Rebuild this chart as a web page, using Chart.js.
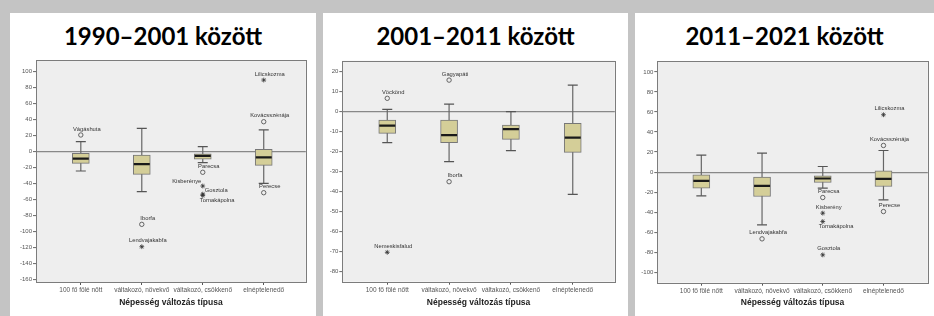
<!DOCTYPE html>
<html lang="hu">
<head>
<meta charset="utf-8">
<script src="https://cdn.jsdelivr.net/npm/chart.js@4.4.1/dist/chart.umd.min.js"></script>
<style>
    html, body { margin: 0; padding: 0; }
    body {
        width: 934px; height: 316px; position: relative; overflow: hidden;
        background: #c4c4c4;
        font-family: "Liberation Sans", Arial, sans-serif;
    }
    .panel { position: absolute; top: 13px; height: 303px; background: #fff; }
    .title {
        position: absolute; left: 0; right: 0; top: 8px;
        text-align: center; line-height: 30px;
        font-family: Lato, "Open Sans", sans-serif; font-weight: 700; font-size: 24px; color: #000;
    }
    canvas { position: absolute; top: 45px; }
</style>
</head>
<body>
<div class="panel" style="left:10px;width:306px"><div class="title">1990–2001 között</div></div>
<div class="panel" style="left:323px;width:305px"><div class="title">2001–2011 között</div></div>
<div class="panel" style="left:635px;width:299px"><div class="title">2011–2021 között</div></div>
<canvas id="c1" width="306" height="271" style="left:10px"></canvas>
<canvas id="c2" width="302" height="271" style="left:323px"></canvas>
<canvas id="c3" width="303" height="271" style="left:635px"></canvas>
<script>
// kategóriák
const categories = ['100 fő fölé nőtt', 'váltakozó, növekvő', 'váltakozó, csökkenő', 'elnéptelenedő'];
const xTitle = 'Népesség változás típusa';

// 1990–2001
const p1Ticks = [100, 80, 60, 40, 20, 0, -20, -40, -60, -80, -100, -120, -140, -160];
const p1Low = [-24.4, -50.3, -14, -39.9];
const p1Q1 = [-14.8, -28.6, -9.6, -17.3];
const p1Median = [-8.8, -15.7, -5.4, -7.3];
const p1Q3 = [-2.3, -4.4, -3, 2.7];
const p1High = [12.3, 29, 6, 27];
const p1Outliers = [
    { cat: 1, value: 20.7, name: 'Vágáshuta', star: false },
    { cat: 2, value: -91.2, name: 'Iborfa', star: false },
    { cat: 2, value: -119.2, name: 'Lendvajakabfa', star: true },
    { cat: 3, value: -26, name: 'Parecsa', star: false },
    { cat: 3, value: -43.2, name: 'Kisberénye', star: true },
    { cat: 3, value: -53.4, name: 'Gosztola', star: true },
    { cat: 3, value: -55, name: 'Tornakápolna', star: true },
    { cat: 4, value: 89.5, name: 'Lilicskozma', star: true },
    { cat: 4, value: 37.3, name: 'Kovácsszénája', star: false },
    { cat: 4, value: -51.6, name: 'Perecse', star: false },
];

// 2001–2011
const p2Ticks = [20, 10, 0, -10, -20, -30, -40, -50, -60, -70, -80];
const p2Low = [-15.5, -25, -19.5, -41.3];
const p2Q1 = [-10.8, -15.5, -13.8, -20.3];
const p2Median = [-7, -11.7, -8.7, -13];
const p2Q3 = [-4.2, -4.2, -6.7, -5.8];
const p2High = [1.2, 3.8, 0, 13.3];
const p2Outliers = [
    { cat: 1, value: 6.7, name: 'Vöckönd', star: false },
    { cat: 1, value: -70.3, name: 'Nemeskisfalud', star: true },
    { cat: 2, value: 15.8, name: 'Gagyapáti', star: false },
    { cat: 2, value: -35, name: 'Iborfa', star: false },
];

// 2011–2021
const p3Ticks = [100, 80, 60, 40, 20, 0, -20, -40, -60, -80, -100];
const p3Low = [-23.7, -52.7, -16, -27.7];
const p3Q1 = [-16, -24.4, -10.4, -14.4];
const p3Median = [-8.7, -13.7, -6.4, -6.7];
const p3Q3 = [-2.7, -5, -3.7, 1.3];
const p3High = [17, 19, 5.6, 21.6];
const p3Outliers = [
    { cat: 2, value: -66.7, name: 'Lendvajakabfa', star: false },
    { cat: 3, value: -25.4, name: 'Parecsa', star: false },
    { cat: 3, value: -41, name: 'Kisberény', star: true },
    { cat: 3, value: -49.4, name: 'Tornakápolna', star: true },
    { cat: 3, value: -82.7, name: 'Gosztola', star: true },
    { cat: 4, value: 57.3, name: 'Lilicskozma', star: true },
    { cat: 4, value: 26.6, name: 'Kovácsszénája', star: false },
    { cat: 4, value: -39.4, name: 'Perecse', star: false },
];

// panelek elrendezése
const panels = [
    { canvas: 'c1', ticks: p1Ticks, low: p1Low, q1: p1Q1, median: p1Median, q3: p1Q3, high: p1High, outliers: p1Outliers,
      yMin: -163.4, yMax: 114.6, xMin: 0.265, xMax: 4.69, yWidth: 26, top: 15, xHeight: 34,
      labelPos: { 'Kisberénye': ['right', -1.5, -4.3], 'Gosztola': ['left', 2, -3.3], 'Tornakápolna': ['left', -3, 4.8] } },
    { canvas: 'c2', ticks: p2Ticks, low: p2Low, q1: p2Q1, median: p2Median, q3: p2Q3, high: p2High, outliers: p2Outliers,
      yMin: -85, yMax: 25.5, xMin: 0.273, xMax: 4.68, yWidth: 19.3, top: 15.7, xHeight: 34.3,
      labelPos: {} },
    { canvas: 'c3', ticks: p3Ticks, low: p3Low, q1: p3Q1, median: p3Median, q3: p3Q3, high: p3High, outliers: p3Outliers,
      yMin: -110.5, yMax: 111, xMin: 0.275, xMax: 4.73, yWidth: 22.3, top: 16, xHeight: 33.3,
      labelPos: { 'Tornakápolna': ['left', -4, 5] } },
];

// háttér és keret
const framePlugin = {
    id: 'frame',
    beforeDraw(chart) {
        const { ctx, chartArea: a } = chart;
        ctx.save();
        ctx.fillStyle = '#eeeeee';
        ctx.fillRect(a.left, a.top, a.width, a.height);
        ctx.restore();
    },
    afterDatasetsDraw(chart) {
        const { ctx, chartArea: a } = chart;
        ctx.save();
        ctx.strokeStyle = '#7c7c7c';
        ctx.lineWidth = 1;
        ctx.strokeRect(Math.round(a.left) + 0.5, Math.round(a.top) + 0.5, Math.round(a.width), Math.round(a.height));
        ctx.restore();
    }
};

// kiugró értékek nevei
const labelPlugin = {
    id: 'outlierLabels',
    afterDatasetsDraw(chart, args, opts) {
        const ctx = chart.ctx;
        ctx.save();
        ctx.font = '5.8px "Liberation Sans", Arial, sans-serif';
        ctx.fillStyle = '#333';
        ctx.textBaseline = 'middle';
        chart.data.datasets.forEach((ds, di) => {
            if (!ds.outliers) return;
            chart.getDatasetMeta(di).data.forEach((pt, i) => {
                const name = ds.data[i].name;
                const [align, dx, dy] = opts.pos[name] || ['center', 6, -6];
                ctx.textAlign = align;
                ctx.fillText(name, pt.x + dx, pt.y + dy);
            });
        });
        ctx.restore();
    }
};

function buildChart(p) {
    const whiskers = [];
    const caps = [];
    categories.forEach((c, i) => {
        whiskers.push({ x: i + 1, y: p.high[i] }, { x: i + 1, y: p.low[i] }, { x: i + 1, y: null });
        caps.push({ x: i + 1, y: p.low[i] }, { x: i + 1, y: p.high[i] });
    });
    const boxes = categories.map((c, i) => ({ x: i + 1, y: [p.q1[i], p.q3[i]] }));
    const medians = categories.map((c, i) => ({ x: i + 1, y: p.median[i] }));
    const circles = p.outliers.filter(o => !o.star).map(o => ({ x: o.cat, y: o.value, name: o.name }));
    const stars = p.outliers.filter(o => o.star).map(o => ({ x: o.cat, y: o.value, name: o.name }));

    new Chart(document.getElementById(p.canvas), {
        type: 'scatter',
        data: {
            datasets: [
                { data: whiskers, showLine: true, pointRadius: 0, borderColor: '#666', borderWidth: 1.2, spanGaps: false, order: 5 },
                { data: caps, pointStyle: 'line', pointRadius: 5, pointBorderColor: '#555', pointBorderWidth: 1.2, order: 4 },
                { type: 'bar', data: boxes, barThickness: 17, backgroundColor: '#d4ce98', borderColor: '#777', borderWidth: 1, borderSkipped: false, order: 3 },
                { data: medians, pointStyle: 'line', pointRadius: 8, pointBorderColor: '#1a1a1a', pointBorderWidth: 2.2, order: 2 },
                { data: circles, outliers: true, pointStyle: 'circle', pointRadius: 2.2, pointBackgroundColor: 'rgba(0,0,0,0)', pointBorderColor: '#555', pointBorderWidth: 0.9, order: 1 },
                { data: stars, outliers: true, pointStyle: 'star', pointRadius: 2.4, pointBorderColor: '#333', pointBorderWidth: 0.8, order: 1 },
            ]
        },
        options: {
            responsive: false,
            animation: false,
            layout: { padding: { top: p.top, left: 0, right: 0, bottom: 0 } },
            plugins: {
                legend: { display: false },
                tooltip: { enabled: false },
                outlierLabels: { pos: p.labelPos }
            },
            scales: {
                x: {
                    type: 'linear',
                    offset: false,
                    min: p.xMin,
                    max: p.xMax,
                    afterBuildTicks: s => { s.ticks = categories.map((c, i) => ({ value: i + 1 })); },
                    afterFit: s => { s.height = p.xHeight; },
                    ticks: {
                        callback: v => categories[v - 1] || '',
                        font: { size: 6.5, family: '"Liberation Sans", Arial, sans-serif' },
                        color: '#555',
                        padding: 1.5,
                        maxRotation: 0,
                        autoSkip: false
                    },
                    grid: { offset: false, drawOnChartArea: false, tickLength: 3, tickColor: '#555', tickWidth: 1 },
                    border: { display: false },
                    title: {
                        display: true,
                        text: xTitle,
                        font: { size: 8.5, weight: 'bold', family: '"Liberation Sans", Arial, sans-serif' },
                        color: '#222',
                        padding: { top: 0, bottom: 8 }
                    }
                },
                y: {
                    min: p.yMin,
                    max: p.yMax,
                    afterBuildTicks: s => { s.ticks = p.ticks.map(v => ({ value: v })); },
                    afterFit: s => { s.width = p.yWidth; },
                    ticks: {
                        font: { size: 6, family: '"Liberation Sans", Arial, sans-serif' },
                        color: '#555',
                        padding: 1
                    },
                    grid: {
                        color: c => (c.tick && c.tick.value === 0 ? '#888' : 'rgba(0,0,0,0)'),
                        lineWidth: 1.2,
                        tickColor: '#666',
                        tickLength: 3,
                        tickWidth: 1
                    },
                    border: { display: false }
                }
            }
        },
        plugins: [framePlugin, labelPlugin]
    });
}

panels.forEach(buildChart);
</script>
</body>
</html>
